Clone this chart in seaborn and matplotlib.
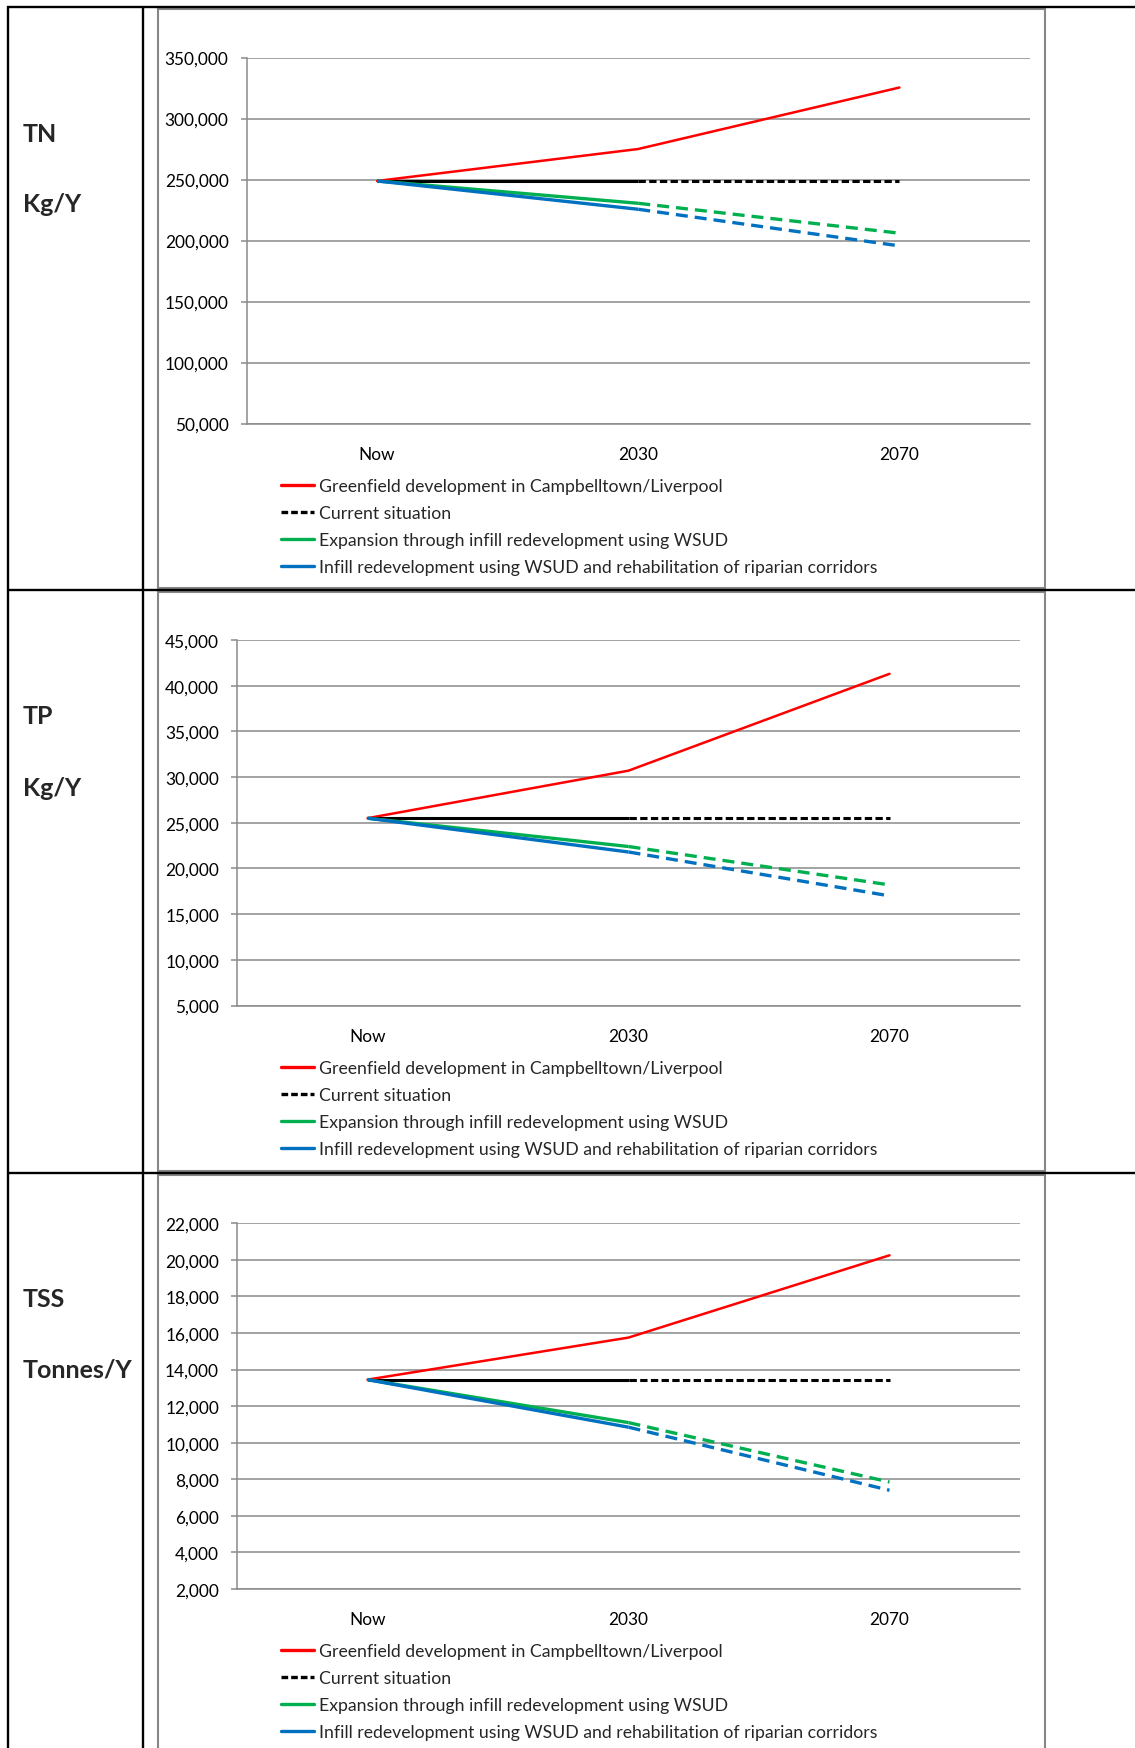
import matplotlib
matplotlib.use("Agg")
import matplotlib.pyplot as plt
import matplotlib.ticker as mticker
from matplotlib.lines import Line2D
from matplotlib.patches import Rectangle
import numpy as np
import pandas as pd
import seaborn as sns

# ---------------------------------------------------------------- data
periods = ["Now", "2030", "2070"]
scenarios = [
    "Greenfield development in Campbelltown/Liverpool",
    "Current situation",
    "Expansion through infill redevelopment using WSUD",
    "Infill redevelopment using WSUD and rehabilitation of riparian corridors",
]

# Total nitrogen, kg per year
tn_greenfield = [248800, 275000, 325400]
tn_current = [248800, 248800, 248800]
tn_wsud = [248800, 230500, 206000]
tn_riparian = [248800, 225600, 195600]
tn_ticks = [50000, 100000, 150000, 200000, 250000, 300000, 350000]

# Total phosphorus, kg per year
tp_greenfield = [25500, 30700, 41300]
tp_current = [25500, 25500, 25500]
tp_wsud = [25500, 22400, 18200]
tp_riparian = [25500, 21800, 17000]
tp_ticks = [5000, 10000, 15000, 20000, 25000, 30000, 35000, 40000, 45000]

# Total suspended solids, tonnes per year
tss_greenfield = [13450, 15750, 20250]
tss_current = [13450, 13450, 13450]
tss_wsud = [13450, 11100, 7850]
tss_riparian = [13450, 10850, 7400]
tss_ticks = [2000, 4000, 6000, 8000, 10000, 12000, 14000, 16000, 18000, 20000, 22000]

row_titles = [("TN", "Kg/Y"), ("TP", "Kg/Y"), ("TSS", "Tonnes/Y")]

# ---------------------------------------------------------------- style
sns.set_style("white")
plt.rcParams["font.family"] = ["Lato", "DejaVu Sans"]

colors = ["#FF0000", "#000000", "#00B050", "#0070C0"]
widths = [1.8, 2.2, 2.4, 2.4]
dash_styles = [None, (0, (2.4, 1.1)), (0, (3.6, 2.1)), (0, (3.6, 2.1))]
grid_gray = "#8A8A8A"
frame_gray = "#868686"

W, H = 1135, 1749


def fx(px):
    return px / W


def fy(py):
    return 1 - py / H


fig = plt.figure(figsize=(W / 100, H / 100), dpi=100)
fig.patch.set_facecolor("white")

# table rules
rule_kw = dict(color="black", lw=1.7, solid_capstyle="butt")
fig.add_artist(Line2D([fx(8), fx(8)], [fy(7), fy(H + 5)], **rule_kw))
fig.add_artist(Line2D([fx(143), fx(143)], [fy(7), fy(H + 5)], **rule_kw))
for yy in (8, 591, 1174):
    fig.add_artist(Line2D([fx(7), fx(W + 5)], [fy(yy), fy(yy)], **rule_kw))

# chart frames
frames = [(158, 10, 1045, 589), (158, 593, 1045, 1172), (158, 1176, 1045, 1770)]
for (l, t, r, b) in frames:
    fig.add_artist(Rectangle((fx(l), fy(b)), (r - l) / W, (b - t) / H,
                             transform=fig.transFigure, fill=False,
                             edgecolor=frame_gray, lw=1.5))

panels = [
    dict(series=[tn_greenfield, tn_current, tn_wsud, tn_riparian], ticks=tn_ticks,
         box=(246.5, 58.5, 1030, 424.5), legend_y=527.5, title_y=(135, 205)),
    dict(series=[tp_greenfield, tp_current, tp_wsud, tp_riparian], ticks=tp_ticks,
         box=(237, 641, 1020, 1006.5), legend_y=1109.5, title_y=(717, 788)),
    dict(series=[tss_greenfield, tss_current, tss_wsud, tss_riparian], ticks=tss_ticks,
         box=(237, 1224.3, 1020, 1590), legend_y=1692.5, title_y=(1300, 1370)),
]

pos_of = {p: i for i, p in enumerate(periods)}

for panel, (title, unit) in zip(panels, row_titles):
    l, t, r, b = panel["box"]
    ax = fig.add_axes([fx(l), fy(b), (r - l) / W, (b - t) / H])
    ax.set_facecolor("white")

    df = pd.DataFrame({
        "period": periods * len(scenarios),
        "scenario": np.repeat(scenarios, len(periods)),
        "value": np.concatenate(panel["series"]),
    })
    df["pos"] = df["period"].map(pos_of)

    for k, name in enumerate(scenarios):
        sub = df[df["scenario"] == name]
        if dash_styles[k] is None:
            sns.lineplot(data=sub, x="pos", y="value", color=colors[k],
                         linewidth=widths[k], estimator=None, legend=False, ax=ax,
                         solid_capstyle="round", solid_joinstyle="round")
        else:
            head = sub[sub["pos"] <= 1]
            tail = sub[sub["pos"] >= 1]
            sns.lineplot(data=head, x="pos", y="value", color=colors[k],
                         linewidth=widths[k], estimator=None, legend=False, ax=ax,
                         solid_capstyle="butt")
            sns.lineplot(data=tail, x="pos", y="value", color=colors[k],
                         linewidth=widths[k], linestyle=dash_styles[k],
                         estimator=None, legend=False, ax=ax, dash_capstyle="butt")

    ticks = panel["ticks"]
    ax.set_xlim(-0.5, len(periods) - 0.5)
    ax.set_ylim(ticks[0], ticks[-1])
    ax.set_xticks(range(len(periods)))
    ax.set_xticklabels(periods)
    ax.set_xticks(np.arange(len(periods) + 1) - 0.5, minor=True)
    ax.set_yticks(ticks)
    ax.yaxis.set_major_formatter(mticker.StrMethodFormatter("{x:,.0f}"))
    ax.set_xlabel("")
    ax.set_ylabel("")

    ax.tick_params(axis="x", which="major", length=0, pad=16, labelsize=12.4,
                   labelcolor="black")
    ax.tick_params(axis="x", which="minor", length=4.3, width=1.1,
                   color=grid_gray, direction="out")
    ax.tick_params(axis="y", which="major", length=4.3, width=1.1, color=grid_gray,
                   direction="out", pad=8.6, labelsize=12.4, labelcolor="black",
                   left=True)
    ax.grid(axis="y", color=grid_gray, lw=1.1)
    ax.grid(axis="x", visible=False)
    ax.set_axisbelow(True)
    for side in ("top", "right"):
        ax.spines[side].set_visible(False)
    for side in ("left", "bottom"):
        ax.spines[side].set_color(grid_gray)
        ax.spines[side].set_linewidth(1.1)

    handles = [
        Line2D([], [], color=colors[0], lw=2.4),
        Line2D([], [], color=colors[1], lw=2.4, ls=(0, (2.0, 0.9))),
        Line2D([], [], color=colors[2], lw=2.4),
        Line2D([], [], color=colors[3], lw=2.4),
    ]
    fig.legend(handles, scenarios, loc="center left",
               bbox_to_anchor=(fx(281), fy(panel["legend_y"])),
               frameon=False, fontsize=12.7, handlelength=1.85,
               handletextpad=0.28, labelspacing=0.63, borderpad=0,
               borderaxespad=0)

    fig.text(fx(23), fy(panel["title_y"][0]), title, fontsize=18,
             fontweight="bold", ha="left", va="center")
    fig.text(fx(23), fy(panel["title_y"][1]), unit, fontsize=18,
             fontweight="bold", ha="left", va="center")

fig.savefig("out.png", dpi=100, facecolor="white")
